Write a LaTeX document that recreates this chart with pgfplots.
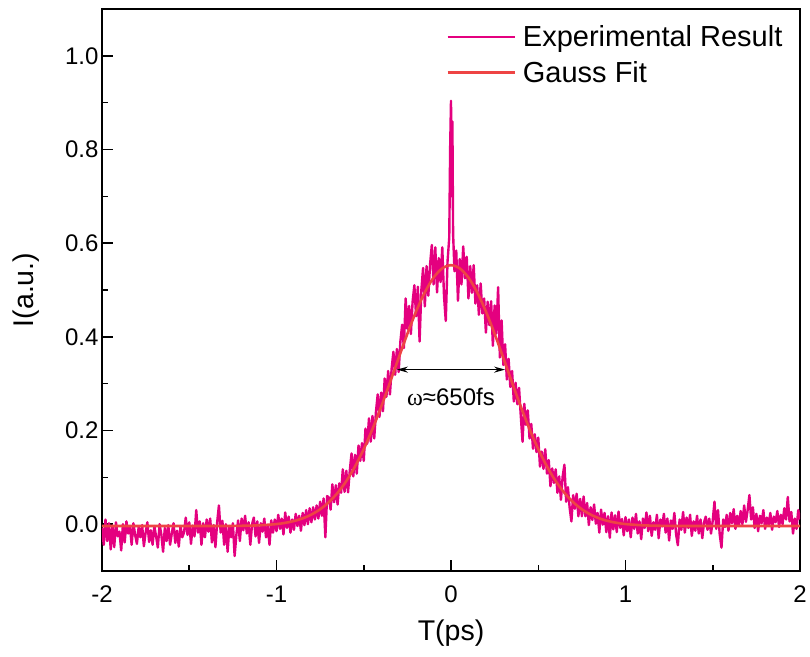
\documentclass[border=0pt]{standalone}
\usepackage{fontspec}
\setmainfont{Liberation Sans}
\newfontfamily\grfont{Liberation Serif}
\usepackage{pgfplots}
\pgfplotsset{compat=1.18}
\usetikzlibrary{arrows.meta}
\definecolor{expcol}{RGB}{228,0,127}
\definecolor{fitcol}{RGB}{238,68,68}

\begin{document}
\begin{tikzpicture}
\begin{axis}[
    name=ax,
    scale only axis,
    width=698bp, height=562bp,
    xmin=-2, xmax=2, ymin=-0.1, ymax=1.1,
    xtick={-2,-1,0,1,2},
    ytick={0,0.2,0.4,0.6,0.8,1.0},
    minor x tick num=1, minor y tick num=1,
    xtick pos=bottom, ytick pos=left,
    tick align=inside,
    major tick length=11bp, minor tick length=6bp,
    every tick/.style={black, line width=1.5bp},
    axis line style={line width=1.8bp},
    /pgf/number format/assume math mode=true,
    yticklabel style={/pgf/number format/.cd, fixed, fixed zerofill, precision=1},
    xticklabel style={yshift=-11bp},
    ticklabel style={font=\fontsize{24bp}{28bp}\selectfont},
    label style={font=\fontsize{28.5bp}{33bp}\selectfont},
    xlabel={T(ps)}, ylabel={I(a.u.)},
    xlabel style={at={(axis description cs:0.5,-0.1103)}, anchor=center},
    ylabel style={at={(axis description cs:-0.1089,0.5)}, anchor=center},
    legend style={at={(axis description cs:0.493,0.974)}, anchor=north west,
        draw=none, fill=none, font=\fontsize{29bp}{33bp}\selectfont,
        row sep=9bp, inner sep=0pt,
        nodes={inner sep=2bp}},
    legend cell align=left,
    legend image code/.code={\draw[#1] (0bp,0bp) -- (67bp,0bp); \path (72bp,0bp);},
]
% experimental trace
\addplot[color=expcol, line width=2.4bp, line join=round] coordinates {
(-2.00,-0.008) (-1.99,-0.044) (-1.98,0.010) (-1.97,-0.036) (-1.96,0.002) (-1.95,-0.054) (-1.94,-0.003) (-1.93,-0.049) (-1.92,0.004) (-1.91,-0.026)
(-1.90,-0.016) (-1.89,-0.056) (-1.88,0.000) (-1.87,-0.039) (-1.86,0.006) (-1.85,-0.020) (-1.84,-0.004) (-1.83,-0.044) (-1.82,0.002) (-1.81,-0.023)
(-1.80,-0.042) (-1.79,-0.006) (-1.78,-0.028) (-1.77,-0.002) (-1.76,-0.047) (-1.75,-0.018) (-1.74,0.004) (-1.73,-0.038) (-1.72,-0.013) (-1.71,-0.044)
(-1.70,-0.004) (-1.69,-0.026) (-1.68,-0.050) (-1.67,0.000) (-1.66,-0.022) (-1.65,-0.059) (-1.64,-0.008) (-1.63,-0.036) (-1.62,-0.002) (-1.61,-0.044)
(-1.60,-0.020) (-1.59,0.002) (-1.58,-0.040) (-1.57,-0.014) (-1.56,-0.048) (-1.55,-0.004) (-1.54,-0.028) (-1.53,-0.018) (-1.52,0.014) (-1.51,-0.023)
(-1.50,0.004) (-1.49,-0.042) (-1.48,-0.003) (-1.47,-0.026) (-1.46,0.030) (-1.45,-0.018) (-1.44,0.006) (-1.43,-0.044) (-1.42,0.002) (-1.41,-0.028)
(-1.40,0.010) (-1.39,-0.016) (-1.38,0.012) (-1.37,-0.039) (-1.36,-0.002) (-1.35,-0.049) (-1.34,0.004) (-1.33,0.040) (-1.32,-0.018) (-1.31,0.007)
(-1.30,-0.044) (-1.29,0.000) (-1.28,-0.059) (-1.27,-0.004) (-1.26,-0.028) (-1.25,0.002) (-1.24,-0.068) (-1.23,-0.023) (-1.22,0.008) (-1.21,-0.036)
(-1.20,0.012) (-1.19,-0.013) (-1.18,0.018) (-1.17,-0.020) (-1.16,0.004) (-1.15,-0.044) (-1.14,0.000) (-1.13,0.014) (-1.12,-0.026) (-1.11,0.006)
(-1.10,-0.040) (-1.09,0.002) (-1.08,-0.016) (-1.07,0.012) (-1.06,-0.028) (-1.05,-0.004) (-1.04,-0.044) (-1.03,0.008) (-1.02,-0.018) (-1.01,0.010)
(-1.00,-0.015) (-0.99,0.020) (-0.98,-0.010) (-0.97,0.012) (-0.96,-0.022) (-0.95,0.025) (-0.94,-0.008) (-0.93,0.016) (-0.92,-0.018) (-0.91,0.010)
(-0.90,-0.012) (-0.89,0.022) (-0.88,-0.004) (-0.87,0.018) (-0.86,-0.014) (-0.85,0.024) (-0.84,-0.002) (-0.83,0.030) (-0.82,0.000) (-0.81,0.034)
(-0.80,0.004) (-0.79,0.036) (-0.78,0.010) (-0.77,0.040) (-0.76,0.012) (-0.75,0.048) (-0.74,0.018) (-0.73,0.055) (-0.72,-0.028) (-0.71,0.060)
(-0.70,0.057) (-0.69,0.031) (-0.68,0.085) (-0.67,0.047) (-0.66,0.083) (-0.65,0.042) (-0.64,0.087) (-0.63,0.067) (-0.62,0.117) (-0.61,0.069)
(-0.60,0.114) (-0.59,0.068) (-0.58,0.114) (-0.57,0.151) (-0.56,0.102) (-0.55,0.148) (-0.54,0.108) (-0.53,0.168) (-0.52,0.135) (-0.51,0.173)
(-0.50,0.135) (-0.49,0.204) (-0.48,0.172) (-0.47,0.226) (-0.46,0.176) (-0.45,0.231) (-0.44,0.183) (-0.43,0.240) (-0.42,0.277) (-0.41,0.229)
(-0.40,0.281) (-0.39,0.241) (-0.38,0.311) (-0.37,0.272) (-0.36,0.327) (-0.35,0.277) (-0.34,0.333) (-0.33,0.368) (-0.32,0.319) (-0.31,0.374)
(-0.30,0.325) (-0.29,0.390) (-0.28,0.426) (-0.27,0.376) (-0.26,0.482) (-0.25,0.417) (-0.24,0.466) (-0.23,0.406) (-0.22,0.475) (-0.21,0.510)
(-0.20,0.444) (-0.19,0.507) (-0.18,0.390) (-0.17,0.499) (-0.16,0.547) (-0.15,0.465) (-0.14,0.551) (-0.13,0.488) (-0.12,0.554) (-0.11,0.596)
(-0.10,0.512) (-0.09,0.591) (-0.08,0.495) (-0.07,0.568) (-0.06,0.517) (-0.05,0.591) (-0.04,0.487) (-0.03,0.434) (-0.02,0.560) (-0.01,0.612)
(-0.005,0.800) (0.000,0.904) (0.004,0.700) (0.008,0.860) (0.012,0.620)
(0.02,0.540) (0.03,0.584) (0.04,0.477) (0.05,0.566) (0.06,0.512) (0.07,0.593) (0.08,0.525) (0.09,0.571)
(0.10,0.482) (0.11,0.551) (0.12,0.494) (0.13,0.553) (0.14,0.471) (0.15,0.510) (0.16,0.447) (0.17,0.514) (0.18,0.450) (0.19,0.482)
(0.20,0.409) (0.21,0.475) (0.22,0.425) (0.23,0.476) (0.24,0.381) (0.25,0.467) (0.26,0.407) (0.27,0.506) (0.28,0.356) (0.29,0.435)
(0.30,0.340) (0.31,0.384) (0.32,0.309) (0.33,0.353) (0.34,0.293) (0.35,0.327) (0.36,0.262) (0.37,0.302) (0.38,0.256) (0.39,0.291)
(0.40,0.231) (0.41,0.176) (0.42,0.257) (0.43,0.212) (0.44,0.243) (0.45,0.183) (0.46,0.214) (0.47,0.161) (0.48,0.192) (0.49,0.154)
(0.50,0.185) (0.51,0.123) (0.52,0.155) (0.53,0.118) (0.54,0.160) (0.55,0.108) (0.56,0.137) (0.57,0.081) (0.58,0.119) (0.59,0.088)
(0.60,0.117) (0.61,0.067) (0.62,0.102) (0.63,0.052) (0.64,0.102) (0.65,0.127) (0.66,0.048) (0.67,0.079) (0.68,0.035) (0.69,0.006)
(0.70,0.062) (0.71,0.033) (0.72,0.065) (0.73,0.017) (0.74,0.054) (0.75,0.017) (0.76,0.059) (0.77,0.017) (0.78,0.045) (0.79,-0.002)
(0.80,0.036) (0.81,0.009) (0.82,0.042) (0.83,0.001) (0.84,0.024) (0.85,-0.018) (0.86,0.031) (0.87,-0.001) (0.88,0.024) (0.89,-0.017)
(0.90,0.017) (0.91,-0.029) (0.92,0.025) (0.93,-0.011) (0.94,0.019) (0.95,-0.017) (0.96,0.027) (0.97,-0.008) (0.98,0.011) (0.99,-0.024)
(1.00,0.015) (1.01,-0.015) (1.02,0.010) (1.03,-0.028) (1.04,0.014) (1.05,-0.010) (1.06,0.022) (1.07,-0.020) (1.08,0.006) (1.09,-0.032)
(1.10,0.012) (1.11,-0.008) (1.12,0.025) (1.13,-0.015) (1.14,0.018) (1.15,-0.025) (1.16,0.004) (1.17,-0.012) (1.18,0.020) (1.19,-0.030)
(1.20,0.010) (1.21,-0.005) (1.22,0.022) (1.23,-0.018) (1.24,0.012) (1.25,-0.035) (1.26,0.008) (1.27,-0.010) (1.28,0.024) (1.29,-0.022)
(1.30,-0.045) (1.31,0.010) (1.32,-0.012) (1.33,0.026) (1.34,-0.018) (1.35,0.014) (1.36,-0.008) (1.37,0.020) (1.38,-0.025) (1.39,0.006)
(1.40,-0.014) (1.41,0.018) (1.42,-0.020) (1.43,0.010) (1.44,-0.030) (1.45,0.004) (1.46,0.016) (1.47,-0.012) (1.48,0.012) (1.49,-0.020)
(1.50,0.008) (1.51,0.048) (1.52,-0.010) (1.53,0.030) (1.54,-0.022) (1.55,-0.050) (1.56,0.010) (1.57,-0.006) (1.58,0.020) (1.59,-0.014)
(1.60,0.024) (1.61,0.002) (1.62,0.032) (1.63,-0.010) (1.64,0.018) (1.65,-0.004) (1.66,0.028) (1.67,0.000) (1.68,0.040) (1.69,0.005)
(1.70,0.030) (1.71,0.062) (1.72,0.010) (1.73,0.036) (1.74,-0.008) (1.75,0.022) (1.76,-0.015) (1.77,0.018) (1.78,0.002) (1.79,0.030)
(1.80,-0.010) (1.81,0.014) (1.82,-0.002) (1.83,0.024) (1.84,-0.012) (1.85,0.016) (1.86,0.004) (1.87,0.028) (1.88,-0.006) (1.89,0.020)
(1.90,0.000) (1.91,0.034) (1.92,0.010) (1.93,0.058) (1.94,0.006) (1.95,0.026) (1.96,-0.020) (1.97,0.012) (1.98,-0.010) (1.99,0.030)
(2.00,0.010)
};
\addlegendentry{Experimental Result}
% gaussian fit
\addplot[color=fitcol, line width=2.6bp, smooth] coordinates {
(-2.00,-0.004) (-1.50,-0.004) (-1.30,-0.0039) (-1.20,-0.0035) (-1.10,-0.0025) (-1.00,0.0002)
(-0.95,0.0028) (-0.90,0.0067) (-0.85,0.0124) (-0.80,0.0205) (-0.75,0.0317) (-0.70,0.0469)
(-0.65,0.0668) (-0.60,0.0920) (-0.55,0.1232) (-0.50,0.1603) (-0.45,0.2032) (-0.40,0.2510)
(-0.35,0.3023) (-0.30,0.3549) (-0.25,0.4065) (-0.20,0.4542) (-0.15,0.4950) (-0.10,0.5265)
(-0.05,0.5462) (0.00,0.5530) (0.05,0.5462) (0.10,0.5265) (0.15,0.4950) (0.20,0.4542)
(0.25,0.4065) (0.30,0.3549) (0.35,0.3023) (0.40,0.2510) (0.45,0.2032) (0.50,0.1603)
(0.55,0.1232) (0.60,0.0920) (0.65,0.0668) (0.70,0.0469) (0.75,0.0317) (0.80,0.0205)
(0.85,0.0124) (0.90,0.0067) (0.95,0.0028) (1.00,0.0002) (1.10,-0.0025) (1.20,-0.0035)
(1.30,-0.0039) (1.50,-0.004) (2.00,-0.004)
};
\addlegendentry{Gauss Fit}
\draw[black, line width=1.3bp, {Stealth[length=11bp,width=6bp]}-{Stealth[length=11bp,width=6bp]}]
    (axis cs:-0.31,0.33) -- (axis cs:0.31,0.33);
\node[font=\fontsize{24bp}{28bp}\selectfont, anchor=center] at (axis cs:0,0.272)
    {{\grfont ω}≈650fs};
\end{axis}
\pgfresetboundingbox
\path ([shift={(-102bp,-86bp)}]ax.south west) rectangle ([shift={(10bp,9bp)}]ax.north east);
\end{tikzpicture}
\end{document}
